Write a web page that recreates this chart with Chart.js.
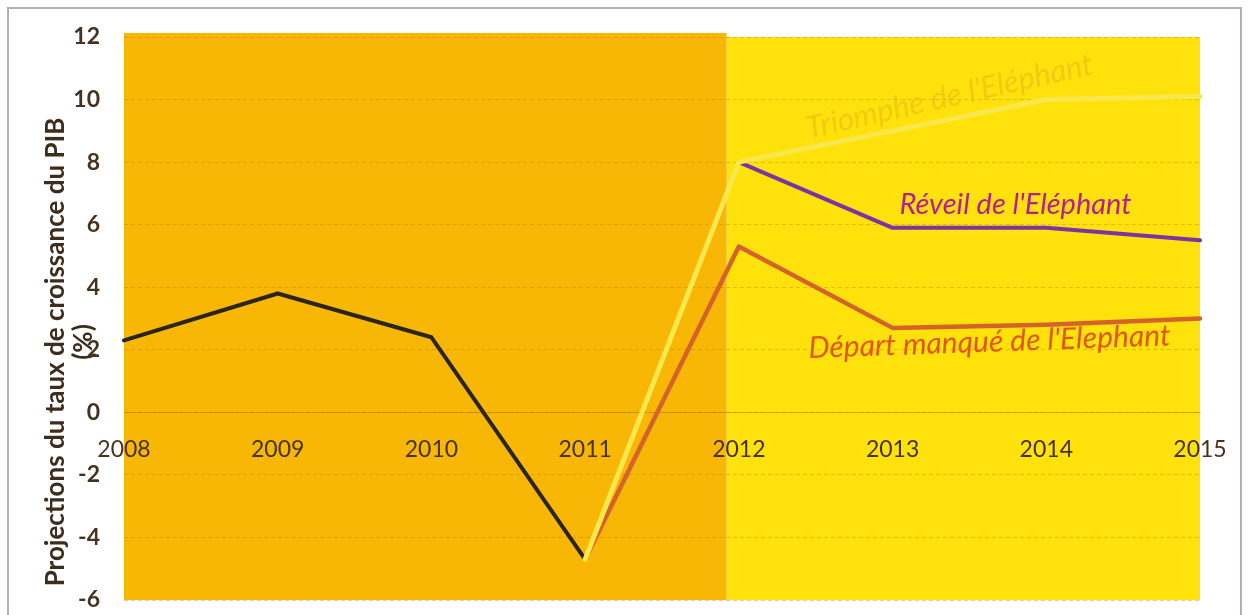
<!DOCTYPE html>
<html>
<head>
<meta charset="utf-8">
<script src="https://cdn.jsdelivr.net/npm/chart.js@4.4.1/dist/chart.umd.min.js"></script>
<style>
  html, body { margin: 0; padding: 0; background: #ffffff; }
  #wrap { width: 1249px; height: 615px; position: relative; }
</style>
</head>
<body>
<div id="wrap"><canvas id="myChart" width="1249" height="615"></canvas></div>
<script>
// Data
const years = ['2008', '2009', '2010', '2011', '2012', '2013', '2014', '2015'];
const historique = [2.3, 3.8, 2.4, -4.7, null, null, null, null];
const triomphe = [null, null, null, -4.7, 8.0, 9.0, 10.0, 10.1];
const reveil = [null, null, null, null, 8.0, 5.9, 5.9, 5.5];
const departManque = [null, null, null, -4.7, 5.3, 2.7, 2.8, 3.0];
const yTicks = [-6, -4, -2, 0, 2, 4, 6, 8, 10, 12];

const tickColor = '#45331f';
const baseFont = 'Lato, "Open Sans", sans-serif';

// Backgrounds, frame and axis title
const backdropPlugin = {
    id: 'backdrop',
    beforeDraw(chart) {
        const { ctx, chartArea, scales } = chart;
        const splitX = scales.x.getPixelForValue(3.92);
        ctx.save();
        ctx.fillStyle = '#ffffff';
        ctx.fillRect(0, 0, chart.width, chart.height);
        // frame
        ctx.strokeStyle = '#b8aeb0';
        ctx.lineWidth = 2;
        ctx.strokeRect(8, 8, chart.width - 16, chart.height - 6);
        // right part (projections)
        ctx.fillStyle = '#ffe10c';
        ctx.fillRect(splitX, chartArea.top, chartArea.right - splitX, chartArea.bottom - chartArea.top);
        // left part (historique)
        ctx.fillStyle = '#f8b704';
        ctx.fillRect(chartArea.left, chartArea.top - 4, splitX - chartArea.left, chartArea.bottom - chartArea.top + 4);
        // y axis title
        ctx.translate(56, 352);
        ctx.rotate(-Math.PI / 2);
        ctx.fillStyle = '#3e2c1c';
        ctx.font = 'bold 26px ' + baseFont;
        ctx.textAlign = 'center';
        ctx.textBaseline = 'middle';
        ctx.fillText('Projections du taux de croissance du PIB', 0, 0);
        ctx.fillText('(%)', 10, 28);
        ctx.restore();
    }
};

// Scenario labels, placed in data coordinates
const labelPlugin = {
    id: 'scenarioLabels',
    afterDatasetsDraw(chart) {
        const { ctx, scales } = chart;
        const items = [
            { text: "Triomphe de l'Eléphant", x: 5.37, y: 10.1, angle: -12.8, color: 'rgba(230,195,20,0.7)', size: 31 },
            { text: "Réveil de l'Eléphant", x: 5.8, y: 6.65, angle: 0, color: '#b81f8c', size: 29 },
            { text: "Départ manqué de l'Elephant", x: 5.63, y: 2.25, angle: -2, color: '#e2560f', size: 30 }
        ];
        ctx.save();
        items.forEach(it => {
            ctx.save();
            ctx.translate(scales.x.getPixelForValue(it.x), scales.y.getPixelForValue(it.y));
            ctx.rotate(it.angle * Math.PI / 180);
            ctx.font = 'italic ' + it.size + 'px ' + baseFont;
            ctx.fillStyle = it.color;
            ctx.textAlign = 'center';
            ctx.textBaseline = 'middle';
            ctx.fillText(it.text, 0, 0);
            ctx.restore();
        });
        ctx.restore();
    }
};

const ctx = document.getElementById('myChart').getContext('2d');
const chart = new Chart(ctx, {
    type: 'line',
    data: {
        labels: years,
        datasets: [
            { label: "Triomphe de l'Eléphant", data: triomphe, borderColor: '#f8e84c', borderWidth: 5 },
            { label: 'Historique', data: historique, borderColor: '#2a2522', borderWidth: 4 },
            { label: "Départ manqué de l'Elephant", data: departManque, borderColor: '#d4622a', borderWidth: 4.5 },
            { label: "Réveil de l'Eléphant", data: reveil, borderColor: '#7a34a4', borderWidth: 4 }
        ]
    },
    options: {
        responsive: false,
        animation: false,
        spanGaps: false,
        elements: {
            point: { radius: 0 },
            line: { tension: 0, borderCapStyle: 'round', borderJoinStyle: 'round' }
        },
        layout: { padding: { top: 37, right: 49, bottom: 15, left: 0 } },
        plugins: {
            legend: { display: false },
            tooltip: { enabled: false }
        },
        scales: {
            x: {
                type: 'category',
                position: { y: 0 },
                offset: false,
                afterFit: axis => { axis.height = 0; },
                grid: { display: false },
                border: { display: true, color: 'rgba(170,110,0,0.45)', width: 1 },
                ticks: {
                    color: tickColor,
                    padding: 15,
                    maxRotation: 0,
                    font: { family: baseFont, size: 23 }
                }
            },
            y: {
                min: -6,
                max: 12,
                afterBuildTicks: axis => { axis.ticks = yTicks.map(v => ({ value: v })); },
                afterFit: axis => {
                    axis.width = 124;
                    axis.paddingTop = 0;
                    axis.paddingBottom = 0;
                },
                grid: {
                    color: 'rgba(175,115,0,0.35)',
                    drawTicks: false
                },
                border: { display: false, dash: [4, 3] },
                ticks: {
                    color: tickColor,
                    padding: 24,
                    font: { family: baseFont, size: 23, weight: 'bold' }
                }
            }
        }
    },
    plugins: [backdropPlugin, labelPlugin]
});
</script>
</body>
</html>
